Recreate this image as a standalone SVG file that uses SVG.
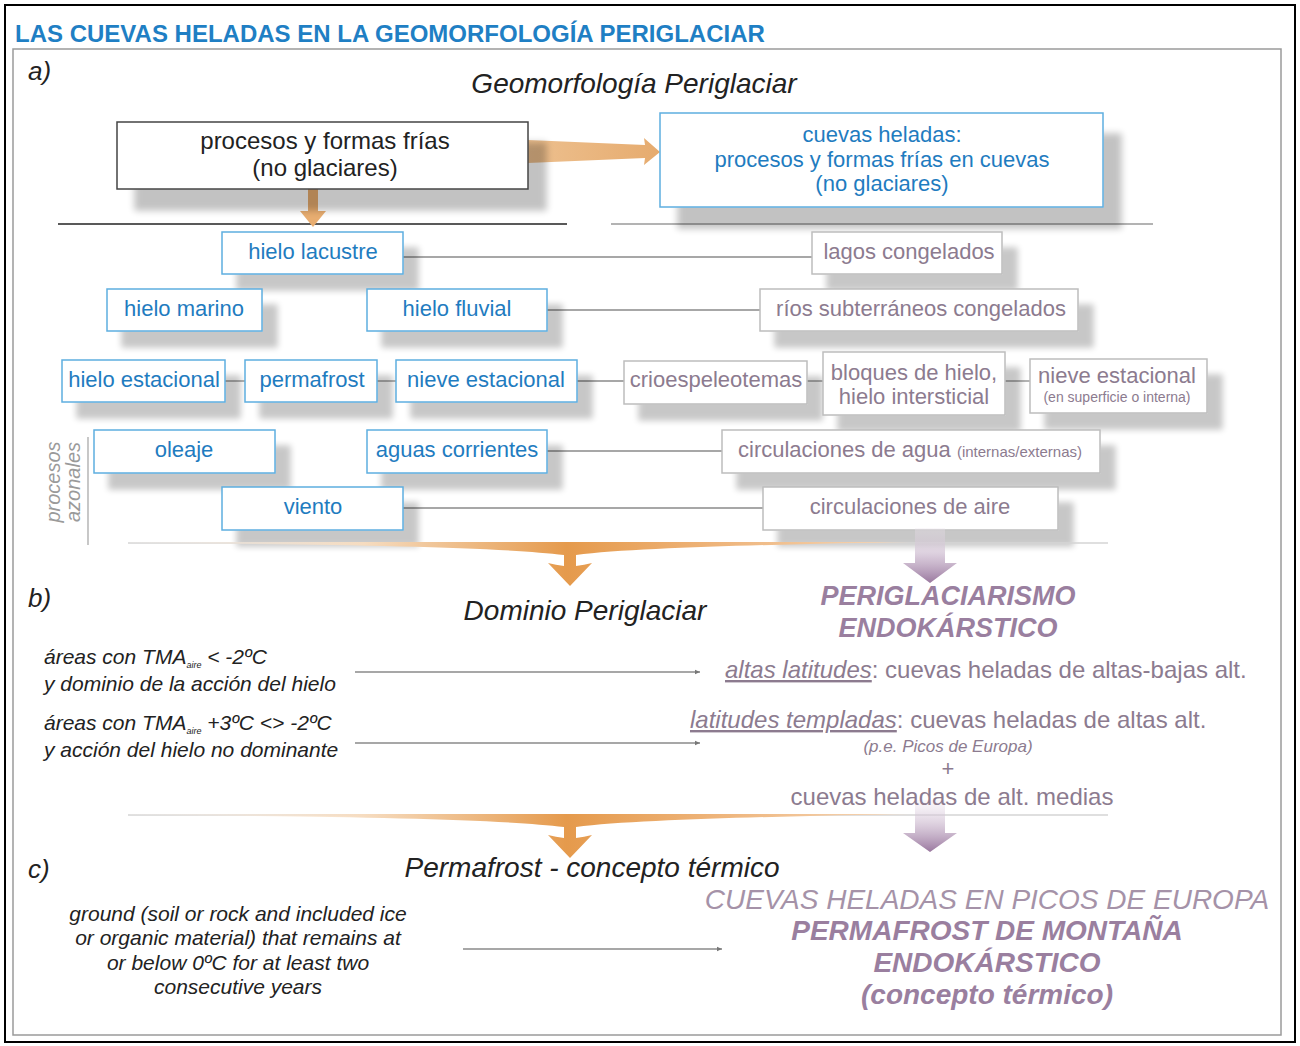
<svg xmlns="http://www.w3.org/2000/svg" width="1300" height="1046" viewBox="0 0 1300 1046">
<defs>
<style>
.t{font-family:"Liberation Sans",Arial,sans-serif;}
.bl{font-family:"Liberation Sans",Arial,sans-serif;font-size:22px;fill:#1f7cc0;text-anchor:middle;}
.pu{font-family:"Liberation Sans",Arial,sans-serif;font-size:22px;fill:#8c7b8f;text-anchor:middle;}
.pus{font-family:"Liberation Sans",Arial,sans-serif;font-size:14px;fill:#8c7b8f;text-anchor:middle;}
.bn{fill:#fff;stroke:#5eaee0;stroke-width:1.5;}
.pn{fill:#fff;stroke:#bdbdbd;stroke-width:1.5;}
.ln{stroke:#8a8a8a;stroke-width:1.3;fill:none;}
.it{font-family:"Liberation Sans",Arial,sans-serif;font-style:italic;fill:#222;}
.ph{font-family:"Liberation Sans",Arial,sans-serif;font-style:italic;font-weight:bold;fill:#9a7f9f;text-anchor:middle;}
</style>
<filter id="sh" x="-20%" y="-30%" width="150%" height="200%">
<feGaussianBlur in="SourceAlpha" stdDeviation="3"/>
<feOffset dx="15" dy="16" result="o"/>
<feComponentTransfer><feFuncA type="linear" slope="0.22"/></feComponentTransfer>
<feMerge><feMergeNode/><feMergeNode in="SourceGraphic"/></feMerge>
</filter>
<filter id="shb" x="-20%" y="-30%" width="150%" height="200%">
<feGaussianBlur in="SourceAlpha" stdDeviation="3.5"/>
<feOffset dx="18" dy="21"/>
<feComponentTransfer><feFuncA type="linear" slope="0.24"/></feComponentTransfer>
<feMerge><feMergeNode/><feMergeNode in="SourceGraphic"/></feMerge>
</filter>
<linearGradient id="og" gradientUnits="userSpaceOnUse" x1="130" y1="0" x2="910" y2="0">
<stop offset="0" stop-color="#fdf3ea" stop-opacity="0.1"/>
<stop offset="0.3" stop-color="#f6dcc0"/>
<stop offset="0.56" stop-color="#e59a4c"/>
<stop offset="0.75" stop-color="#eeb47a"/>
<stop offset="1" stop-color="#f6d8ba"/>
</linearGradient>
<linearGradient id="oa" gradientUnits="userSpaceOnUse" x1="528" y1="0" x2="660" y2="0">
<stop offset="0" stop-color="#edc08f"/>
<stop offset="1" stop-color="#e6ab6e"/>
</linearGradient>
<linearGradient id="pg" x1="0" y1="0" x2="0" y2="1">
<stop offset="0" stop-color="#efe6f0" stop-opacity="0.3"/>
<stop offset="1" stop-color="#9a789f"/>
</linearGradient>
<marker id="ar" markerWidth="6" markerHeight="6" refX="5" refY="3" orient="auto" markerUnits="userSpaceOnUse">
<path d="M0,0.8 L5,3 L0,5.2 Z" fill="#777"/>
</marker>
</defs>
<rect x="0" y="0" width="1300" height="1046" fill="#fff"/>
<rect x="5" y="5" width="1290" height="1037" fill="none" stroke="#000" stroke-width="2"/>
<rect x="13" y="49" width="1268" height="986" fill="none" stroke="#9a9a9a" stroke-width="1.5"/>
<text class="t" x="15" y="42" font-size="24" font-weight="bold" fill="#1f7fc4">LAS CUEVAS HELADAS EN LA GEOMORFOLOGÍA PERIGLACIAR</text>

<text class="it" x="28" y="80" font-size="26">a)</text>
<text class="it" x="634" y="93" font-size="28" text-anchor="middle">Geomorfología Periglaciar</text>

<g id="connectors">
<line x1="58" y1="224" x2="567" y2="224" stroke="#222" stroke-width="1.6"/>
<line x1="611" y1="224" x2="1153" y2="224" stroke="#9a9a9a" stroke-width="1.3"/>
<path d="M528,140 L645,145 L644,138 L660,152 L644,165 L645,158 L528,163 Z" fill="url(#oa)"/>
<path d="M308,189 L318,189 L318,211 L326,211 L313,227 L300,211 L308,211 Z" fill="#e8ad70"/>
<line class="ln" x1="403" y1="257" x2="812" y2="257"/>
<line class="ln" x1="547" y1="310" x2="760" y2="310"/>
<line class="ln" x1="225" y1="381" x2="245" y2="381"/>
<line class="ln" x1="377" y1="381" x2="396" y2="381"/>
<line class="ln" x1="577" y1="381" x2="624" y2="381"/>
<line class="ln" x1="807" y1="381" x2="823" y2="381"/>
<line class="ln" x1="1005" y1="381" x2="1030" y2="381"/>
<line class="ln" x1="547" y1="451" x2="722" y2="451"/>
<line class="ln" x1="403" y1="508" x2="763" y2="508"/>
<line x1="88" y1="437" x2="88" y2="545" stroke="#aaa" stroke-width="1.3"/>
<line x1="355" y1="672" x2="700" y2="672" class="ln" marker-end="url(#ar)"/>
<line x1="355" y1="743" x2="700" y2="743" class="ln" marker-end="url(#ar)"/>
<line x1="463" y1="949" x2="722" y2="949" class="ln" marker-end="url(#ar)"/>
</g>

<g id="node-procesos">
<rect x="117" y="122" width="411" height="67" fill="#fff" stroke="#444" stroke-width="1.5" filter="url(#shb)"/>
<text class="t" x="325" y="149" font-size="24" fill="#222" text-anchor="middle">procesos y formas frías</text>
<text class="t" x="325" y="176" font-size="24" fill="#222" text-anchor="middle">(no glaciares)</text>
</g>
<g id="node-cuevas">
<rect x="660" y="113" width="443" height="94" class="bn" filter="url(#shb)"/>
<text class="bl" x="882" y="142">cuevas heladas:</text>
<text class="bl" x="882" y="167">procesos y formas frías en cuevas</text>
<text class="bl" x="882" y="191">(no glaciares)</text>
</g>

<g id="node-hielo-lacustre"><rect x="222" y="232" width="181" height="42" class="bn" filter="url(#sh)"/><text class="bl" x="313" y="259">hielo lacustre</text></g>
<g id="node-hielo-marino"><rect x="107" y="289" width="155" height="42" class="bn" filter="url(#sh)"/><text class="bl" x="184" y="316">hielo marino</text></g>
<g id="node-hielo-fluvial"><rect x="367" y="289" width="180" height="42" class="bn" filter="url(#sh)"/><text class="bl" x="457" y="316">hielo fluvial</text></g>
<g id="node-hielo-estacional"><rect x="62" y="360" width="163" height="42" class="bn" filter="url(#sh)"/><text class="bl" x="144" y="387">hielo estacional</text></g>
<g id="node-permafrost"><rect x="245" y="360" width="132" height="42" class="bn" filter="url(#sh)"/><text class="bl" x="312" y="387">permafrost</text></g>
<g id="node-nieve-estacional"><rect x="396" y="360" width="181" height="42" class="bn" filter="url(#sh)"/><text class="bl" x="486" y="387">nieve estacional</text></g>
<g id="node-oleaje"><rect x="94" y="430" width="181" height="43" class="bn" filter="url(#sh)"/><text class="bl" x="184" y="457">oleaje</text></g>
<g id="node-aguas-corrientes"><rect x="367" y="430" width="180" height="43" class="bn" filter="url(#sh)"/><text class="bl" x="457" y="457">aguas corrientes</text></g>
<g id="node-viento"><rect x="222" y="487" width="181" height="43" class="bn" filter="url(#sh)"/><text class="bl" x="313" y="514">viento</text></g>

<g id="node-lagos"><rect x="812" y="232" width="190" height="42" class="pn" filter="url(#sh)"/><text class="pu" x="909" y="259">lagos congelados</text></g>
<g id="node-rios"><rect x="760" y="289" width="318" height="42" class="pn" filter="url(#sh)"/><text class="pu" x="921" y="316">ríos subterráneos congelados</text></g>
<g id="node-crio"><rect x="624" y="361" width="183" height="43" class="pn" filter="url(#sh)"/><text class="pu" x="716" y="387">crioespeleotemas</text></g>
<g id="node-bloques"><rect x="823" y="352" width="182" height="63" class="pn" filter="url(#sh)"/><text class="pu" x="914" y="380">bloques de hielo,</text><text class="pu" x="914" y="404">hielo intersticial</text></g>
<g id="node-nieve-int"><rect x="1030" y="359" width="177" height="54" class="pn" filter="url(#sh)"/><text class="pu" x="1117" y="383">nieve estacional</text><text class="pus" x="1117" y="402">(en superficie o interna)</text></g>
<g id="node-circ-agua"><rect x="722" y="430" width="378" height="43" class="pn" filter="url(#sh)"/><text class="pu" x="910" y="457">circulaciones de agua <tspan style="font-size:15px">(internas/externas)</tspan></text></g>
<g id="node-circ-aire"><rect x="763" y="487" width="295" height="43" class="pn" filter="url(#sh)"/><text class="pu" x="910" y="514">circulaciones de aire</text></g>

<text class="t" font-style="italic" font-size="20" fill="#9a9a9a" text-anchor="middle" transform="translate(60,482) rotate(-90)">procesos</text>
<text class="t" font-style="italic" font-size="20" fill="#9a9a9a" text-anchor="middle" transform="translate(80,482) rotate(-90)">azonales</text>

<g id="flow-arrows">
<line x1="128" y1="543" x2="1108" y2="543" stroke="#d4d4d4" stroke-width="1.3"/>
<path d="M130,542 L910,542 C800,544 640,547 576,555 L576,566 Q584,565 592,563 L570,586 L548,563 Q556,565 564,566 L564,555 C500,547 340,544 130,543 Z" fill="url(#og)"/>
<path d="M915,528 L945,528 L945,563 L957,563 L930,583 L903,563 L915,563 Z" fill="url(#pg)"/>
<line x1="128" y1="815" x2="1108" y2="815" stroke="#d4d4d4" stroke-width="1.3"/>
<path d="M130,814 L910,814 C800,816 640,819 576,827 L576,838 Q584,837 592,835 L570,858 L548,835 Q556,837 564,838 L564,827 C500,819 340,816 130,815 Z" fill="url(#og)"/>
<path d="M915,800 L945,800 L945,833 L957,833 L930,852 L903,833 L915,833 Z" fill="url(#pg)"/>
</g>

<text class="it" x="28" y="607" font-size="26">b)</text>
<text class="it" x="585" y="620" font-size="28" text-anchor="middle">Dominio Periglaciar</text>
<text class="ph" x="948" y="605" font-size="27">PERIGLACIARISMO</text>
<text class="ph" x="948" y="637" font-size="27">ENDOKÁRSTICO</text>

<text class="it" x="44" y="664" font-size="21">áreas con TMA<tspan font-size="9" dy="4">aire</tspan><tspan dy="-4"> &lt; -2ºC</tspan></text>
<text class="it" x="44" y="691" font-size="21">y dominio de la acción del hielo</text>
<text class="it" x="44" y="730" font-size="21">áreas con TMA<tspan font-size="9" dy="4">aire</tspan><tspan dy="-4"> +3ºC &lt;&gt; -2ºC</tspan></text>
<text class="it" x="44" y="757" font-size="21">y acción del hielo no dominante</text>

<text class="t" x="725" y="678" font-size="24" fill="#8c7b8f"><tspan font-style="italic" text-decoration="underline">altas latitudes</tspan>: cuevas heladas de altas-bajas alt.</text>
<text class="t" x="690" y="728" font-size="24" fill="#8c7b8f"><tspan font-style="italic" text-decoration="underline">latitudes templadas</tspan>: cuevas heladas de altas alt.</text>
<text class="t" x="948" y="752" font-size="17" font-style="italic" fill="#8c7b8f" text-anchor="middle">(p.e. Picos de Europa)</text>
<text class="t" x="948" y="776" font-size="22" fill="#8c7b8f" text-anchor="middle">+</text>
<text class="t" x="952" y="805" font-size="24" fill="#8c7b8f" text-anchor="middle">cuevas heladas de alt. medias</text>

<text class="it" x="28" y="878" font-size="26">c)</text>
<text class="it" x="592" y="877" font-size="28" text-anchor="middle">Permafrost - concepto térmico</text>
<text class="it" x="238" y="921" font-size="21" text-anchor="middle">ground (soil or rock and included ice</text>
<text class="it" x="238" y="945" font-size="21" text-anchor="middle">or organic material) that remains at</text>
<text class="it" x="238" y="970" font-size="21" text-anchor="middle">or below 0ºC for at least two</text>
<text class="it" x="238" y="994" font-size="21" text-anchor="middle">consecutive years</text>

<text class="t" x="987" y="909" font-size="28" font-style="italic" fill="#a592a8" text-anchor="middle">CUEVAS HELADAS EN PICOS DE EUROPA</text>
<text class="ph" x="987" y="940" font-size="28">PERMAFROST DE MONTAÑA</text>
<text class="ph" x="987" y="972" font-size="28">ENDOKÁRSTICO</text>
<text class="ph" x="987" y="1004" font-size="28">(concepto térmico)</text>
</svg>
